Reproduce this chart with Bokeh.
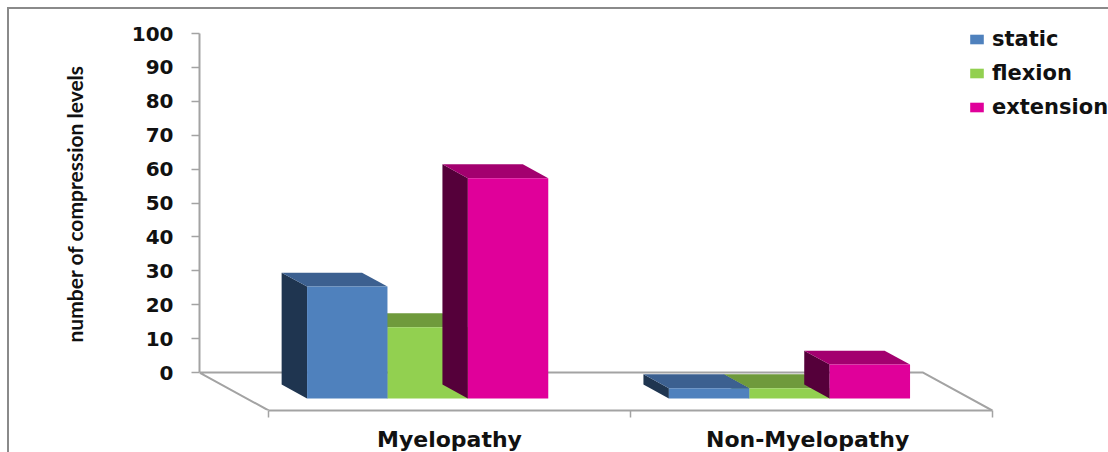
from bokeh.embed import file_html
from bokeh.models import FixedTicker, Legend, LegendItem, Range1d, Title
from bokeh.plotting import figure
from bokeh.resources import INLINE

# Data
categories = ["Myelopathy", "Non-Myelopathy"]
series_names = ["static", "flexion", "extension"]
static = [33, 3]
flexion = [21, 3]
extension = [65, 10]
y_ticks = [0, 10, 20, 30, 40, 50, 60, 70, 80, 90, 100]
y_title = "number of compression levels"

# Styling: front, top and side face colours for each series
front_colors = ["#4f81bd", "#92d050", "#e0009a"]
top_colors = ["#3c6090", "#6f9a3c", "#a3006f"]
side_colors = ["#1f3550", "#4f6f2c", "#55003a"]
axis_color = "#a3a3a3"
border_style = "2px solid #8a8a8a"

# Oblique projection of the floor: the back wall sits DEPTH_X to the left
# of the front edge and DEPTH_Y above it, both in data units.
DEPTH_X = 0.191
DEPTH_Y = 11.2
BAR_FRONT = 0.316
BAR_BACK = 0.684
GROUP_FRACTION = 2 / 3


def project(x, value, depth):
    """Map a point at a floor depth (0 front, 1 back) onto the drawing plane."""
    return x - depth * DEPTH_X, value - DEPTH_Y + depth * DEPTH_Y


p = figure(
    width=1101, height=445, output_backend="svg", toolbar_location=None,
    x_range=Range1d(-DEPTH_X, 2.327), y_range=Range1d(-11.2, 107.08),
    min_border_left=190, min_border_right=0, min_border_top=0, min_border_bottom=42,
    margin=(7, 0, 0, 7),
    styles={"border-top": border_style, "border-left": border_style, "box-sizing": "border-box"},
)
p.grid.visible = False
p.outline_line_color = None

# Floor outline: left edge, back edge, right edge
floor = [project(0, 0, 0), project(0, 0, 1), project(2, 0, 1), project(2, 0, 0)]
p.line([f[0] for f in floor], [f[1] for f in floor], line_color=axis_color, line_width=2)

# Bars, shortest first in each group so taller neighbours overlap correctly
values = [static, flexion, extension]
bar_width = GROUP_FRACTION / len(values)
legend_renderers = {}
for group in range(len(categories)):
    heights = [(values[s][group], s) for s in range(len(values))]
    order = sorted(heights, key=lambda item: (item[0], -item[1]))
    group_left = group + (1 - GROUP_FRACTION) / 2
    for value, s in order:
        x0 = group_left + s * bar_width
        x1 = x0 + bar_width
        fl = project(x0, value, BAR_FRONT)
        fr = project(x1, value, BAR_FRONT)
        bl = project(x0, value, BAR_BACK)
        br = project(x1, value, BAR_BACK)
        fb0 = project(x0, 0, BAR_FRONT)
        fb1 = project(x1, 0, BAR_FRONT)
        bb0 = project(x0, 0, BAR_BACK)
        p.patch([bl[0], fl[0], fb0[0], bb0[0]], [bl[1], fl[1], fb0[1], bb0[1]],
                fill_color=side_colors[s], line_color=None)
        p.patch([bl[0], br[0], fr[0], fl[0]], [bl[1], br[1], fr[1], fl[1]],
                fill_color=top_colors[s], line_color=None)
        front = p.patch([fl[0], fr[0], fb1[0], fb0[0]], [fl[1], fr[1], fb1[1], fb0[1]],
                        fill_color=front_colors[s], line_color=None)
        legend_renderers.setdefault(s, front)

# Value axis
yaxis = p.yaxis[0]
yaxis.ticker = FixedTicker(ticks=y_ticks)
yaxis.bounds = (0, 100)
yaxis.axis_line_color = axis_color
yaxis.axis_line_width = 2
yaxis.major_tick_line_color = axis_color
yaxis.major_tick_line_width = 1.5
yaxis.major_tick_out = 8
yaxis.major_tick_in = 0
yaxis.minor_tick_line_color = None
yaxis.major_label_standoff = 18
yaxis.major_label_text_font = "DejaVu Sans"
yaxis.major_label_text_font_style = "bold"
yaxis.major_label_text_font_size = "20px"
yaxis.major_label_text_color = "#111111"

# Value axis title, set a little above the centre of the plot area
p.add_layout(Title(text=y_title, align="left", offset=68, standoff=83,
                   text_font="Lato", text_font_style="bold", text_font_size="21px",
                   text_color="#111111"), "left")

# Category axis: labels centred in each group, ticks on group boundaries
label_positions = [0.5, 1.49]
xaxis = p.xaxis[0]
xaxis.ticker = FixedTicker(ticks=label_positions, minor_ticks=[0, 1, 2])
xaxis.major_label_overrides = dict(zip(label_positions, categories))
xaxis.bounds = (0, 2)
xaxis.axis_line_color = axis_color
xaxis.axis_line_width = 2
xaxis.major_tick_line_color = None
xaxis.major_tick_out = 0
xaxis.major_tick_in = 0
xaxis.minor_tick_line_color = axis_color
xaxis.minor_tick_line_width = 1.5
xaxis.minor_tick_out = 7
xaxis.minor_tick_in = 0
xaxis.major_label_standoff = 9
xaxis.major_label_text_font = "DejaVu Sans"
xaxis.major_label_text_font_style = "bold"
xaxis.major_label_text_font_size = "22px"
xaxis.major_label_text_color = "#111111"

# Legend
legend = Legend(
    items=[LegendItem(label=series_names[s], renderers=[legend_renderers[s]]) for s in range(3)],
    location=(769, 291), orientation="vertical",
    background_fill_alpha=0, border_line_color=None,
    glyph_width=17, glyph_height=12, label_height=12, label_standoff=7, spacing=10,
    margin=0, padding=0,
    label_text_font="DejaVu Sans", label_text_font_style="bold",
    label_text_font_size="21px", label_text_color="#111111",
)
p.add_layout(legend, "center")

open("out.html", "w").write(file_html(p, INLINE))
